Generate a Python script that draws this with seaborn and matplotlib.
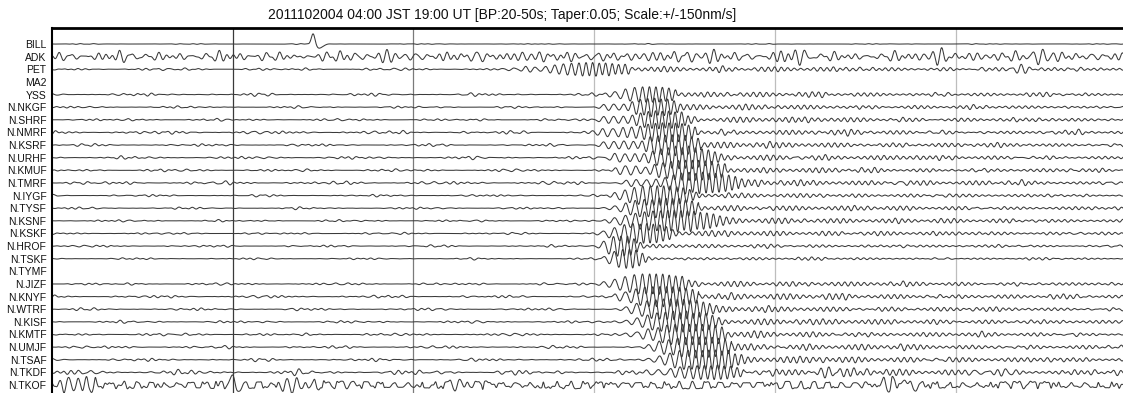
import numpy as np
import pandas as pd
import matplotlib
matplotlib.use("Agg")
import matplotlib.pyplot as plt
import seaborn as sns

# ---------------- data ----------------
# station order, top to bottom
stations = ["BILL", "ADK", "PET", "MA2", "YSS", "N.NKGF", "N.SHRF", "N.NMRF",
            "N.KSRF", "N.URHF", "N.KMUF", "N.TMRF", "N.IYGF", "N.TYSF", "N.KSNF",
            "N.KSKF", "N.HROF", "N.TSKF", "N.TYMF", "N.JIZF", "N.KNYF", "N.WTRF",
            "N.KISF", "N.KMTF", "N.UMJF", "N.TSAF", "N.TKDF", "N.TKOF"]
# 1 = trace recorded, 0 = blank row
has_data = [1, 1, 1, 0, 1, 1, 1, 1, 1, 1, 1, 1, 1, 1, 1, 1, 1, 1, 0, 1, 1, 1, 1, 1, 1, 1, 1, 1]
# surface-wave packet: onset, centre, half-width (minutes after 04:00 JST)
onset_min = [np.nan, np.nan, 26.0, np.nan, 31.3, 30.3, 30.2, 29.9, 30.3, 30.8, 31.2, 31.6,
             31.0, 31.3, 31.2, 30.9, 30.6, 30.8, np.nan, 31.1, 31.5, 32.0, 32.3, 32.6,
             33.1, 33.6, 33.8, np.nan]
peak_min = [np.nan, np.nan, 29.8, np.nan, 33.0, 33.4, 33.7, 34.0, 34.4, 34.9, 35.4, 36.0,
            33.5, 33.8, 34.3, 32.7, 31.5, 31.8, np.nan, 33.2, 33.8, 34.4, 34.75, 35.2,
            35.6, 36.0, 36.3, np.nan]
halfwidth_min = [np.nan, np.nan, 2.2, np.nan, 1.6, 1.3, 1.5, 1.7, 1.5, 1.8, 1.9, 2.0,
                 1.9, 2.0, 2.5, 1.6, 0.9, 0.9, np.nan, 1.9, 2.0, 2.0, 2.0, 2.1,
                 2.0, 2.0, 2.0, np.nan]
# amplitudes in units of trace spacing
peak_amp = [0, 0, 0.5, 0, 0.62, 0.7, 0.72, 0.75, 0.8, 0.82, 0.8, 0.78,
            0.78, 0.78, 0.8, 0.75, 0.8, 0.75, 0, 0.78, 0.8, 0.8, 0.82, 0.82,
            0.82, 0.8, 0.55, 0]
coda_amp = [0, 0, 0.25, 0, 0.22, 0.22, 0.25, 0.22, 0.25, 0.25, 0.22, 0.25,
            0.2, 0.25, 0.28, 0.25, 0.15, 0.12, 0, 0.25, 0.28, 0.25, 0.28, 0.25,
            0.28, 0.3, 0.3, 0]
noise_amp = [0.02, 0.28, 0.08, 0, 0.08, 0.06, 0.07, 0.1, 0.07, 0.08, 0.08, 0.1,
             0.06, 0.06, 0.06, 0.06, 0.06, 0.05, 0, 0.07, 0.08, 0.07, 0.07, 0.08,
             0.08, 0.08, 0.14, 0.3]
# isolated wave groups
burst_station = ["ADK", "ADK", "ADK", "ADK", "ADK", "ADK", "ADK", "ADK", "ADK",
                 "PET", "N.TKDF", "N.TKDF", "N.TKOF", "N.TKOF", "N.TKOF", "N.TKOF"]
burst_min = [19.0, 26.5, 33.2, 36.6, 40.3, 41.6, 49.2, 51.2, 54.8,
             53.6, 43.0, 52.8, 1.4, 13.5, 23.0, 46.5]
burst_amp = [0.4, 0.4, 0.35, 0.4, 0.35, 0.4, 0.4, 0.35, 0.4,
             0.35, 0.35, 0.3, 0.6, 0.5, 0.35, 0.45]
burst_width = [0.5, 0.6, 0.5, 0.4, 0.4, 0.3, 0.6, 0.3, 0.6,
               0.4, 0.6, 0.4, 1.0, 0.8, 0.6, 0.8]
# single pulses
pulse_station = ["BILL", "N.TKOF", "N.TKOF", "N.TKOF"]
pulse_min = [14.45, 10.0, 39.6, 47.2]
pulse_amp = [0.85, 0.55, 0.3, 0.5]
# hour-mark lines
mark_min = [10, 20, 30, 40, 50]
mark_color = ["#3a3a3a", "#7a7a7a", "#bdbdbd", "#bdbdbd", "#bdbdbd"]
title = "2011102004 04:00 JST 19:00 UT [BP:20-50s; Taper:0.05; Scale:+/-150nm/s]"

# ---------------- waveform synthesis from the read parameters ----------------
t = np.arange(0, 60.0, 0.02)
dt = t[1] - t[0]
golden = 0.6180339887
noise_periods = [0.42, 0.55, 0.68, 0.83, 0.37]


def frac(x):
    return x - np.floor(x)


rows = []
for i, name in enumerate(stations):
    if not has_data[i]:
        continue
    # background microseism: deterministic mix of band-passed tones
    bg = np.zeros_like(t)
    for k, p in enumerate(noise_periods):
        ph = 2 * np.pi * frac((i + 1) * (k + 1) * golden)
        bg += np.sin(2 * np.pi * t / p + ph)
    bg /= len(noise_periods) ** 0.5
    depth = 0.2 if name in ("ADK", "N.TKOF") else 0.45
    mod = (1 - depth) + depth * np.sin(2 * np.pi * t / 6.3 + 2 * np.pi * frac(i * golden))
    y = noise_amp[i] * bg * mod
    if name == "N.TKOF":
        y = noise_amp[i] * np.sin(2 * np.pi * t / 0.75 + bg) * mod
    # surface-wave packet with dispersion (long periods first)
    if not np.isnan(onset_min[i]):
        t0, tp, w, a = onset_min[i], peak_min[i], halfwidth_min[i], peak_amp[i]
        period = np.clip(0.62 - 0.26 * (t - t0) / max(tp - t0, 0.5), 0.36, 0.62)
        phase = 2 * np.pi * np.cumsum(1.0 / period) * dt
        s_on = 1.0 / (1.0 + np.exp(-(t - t0) / 0.15))
        main = a * np.exp(-0.5 * np.abs((t - tp) / (w * 0.95)) ** 3)
        side = np.where(t < tp, 0.38 * a * s_on,
                        coda_amp[i] * np.exp(-(t - tp) / 25.0))
        env = np.maximum(main, side)
        cmod = 0.7 + 0.3 * np.sin(2 * np.pi * t / 3.1 + i)
        env = np.where(t > tp + w, env * cmod, env)
        y = y + env * np.sin(phase)
    for s, tb, ab, wb in zip(burst_station, burst_min, burst_amp, burst_width):
        if s == name:
            y = y + ab * np.exp(-0.5 * ((t - tb) / wb) ** 2) * np.sin(2 * np.pi * (t - tb) / 0.5 + 1.2)
    for s, tb, ab in zip(pulse_station, pulse_min, pulse_amp):
        if s == name:
            y = y + ab * np.exp(-0.5 * ((t - tb) / 0.1) ** 2) \
                  - 0.4 * ab * np.exp(-0.5 * ((t - tb - 0.35) / 0.18) ** 2)
    rows.append(pd.DataFrame({"t": t, "y": i - y, "station": name}))

df = pd.concat(rows, ignore_index=True)

# ---------------- drawing ----------------
sns.set_style("white")
plt.rcParams["font.family"] = ["Liberation Sans", "DejaVu Sans"]

W, H = 1123, 393
fig = plt.figure(figsize=(W / 100, H / 100), dpi=100)
ax_left, ax_top = 52, 28
row0, spacing = 44, 12.63
px_per_min = 18.07
ax = fig.add_axes([ax_left / W, 0, 1 - ax_left / W, 1 - ax_top / H])

for m, c in zip(mark_min, mark_color):
    ax.axvline(m, color=c, lw=0.9, zorder=1)

sns.lineplot(data=df, x="t", y="y", units="station", estimator=None, sort=False,
             color="#3a3a3a", lw=0.75, legend=False, ax=ax, zorder=2)

ax.set_xlim(0, (W - ax_left) / px_per_min)
ax.set_ylim((H - row0) / spacing, -(row0 - ax_top) / spacing)
ax.set_yticks(range(len(stations)))
ax.set_yticklabels(stations)
ax.set_xticks([])
ax.set_xlabel("")
ax.set_ylabel("")
ax.tick_params(axis="y", length=0, pad=4, labelsize=7.5, labelcolor="#111111")
for side in ["right", "bottom"]:
    ax.spines[side].set_visible(False)
ax.spines["top"].set_linewidth(2.0)
ax.spines["top"].set_color("black")
ax.spines["left"].set_linewidth(1.5)
ax.spines["left"].set_color("black")

fig.text(502 / W, 1 - 15 / H, title, ha="center", va="center", fontsize=10, color="#111111")

fig.savefig("out.png", dpi=100)
